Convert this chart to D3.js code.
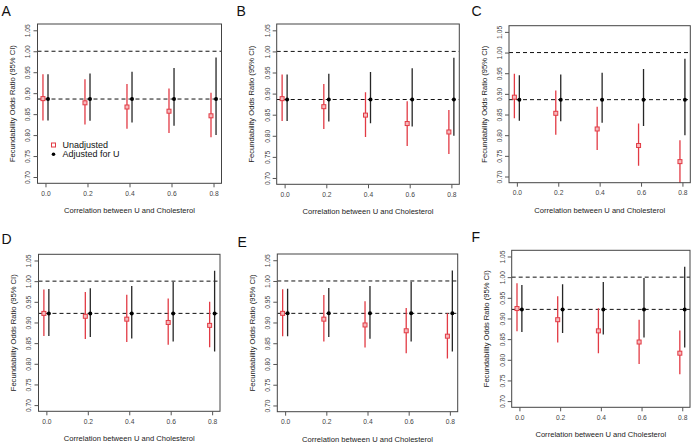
<!DOCTYPE html>
<html>
<head>
<meta charset="utf-8">
<script src="https://cdn.jsdelivr.net/npm/d3@7"></script>
<style>
  body { margin: 0; background: #fff; }
  svg { font-family: "Liberation Sans", Arial, sans-serif; }
</style>
</head>
<body>
<div id="chart"></div>
<script>
// correlation between U and cholesterol (x categories)
var corr = [0, 0.2, 0.4, 0.6, 0.8];
var xTicks = [0, 0.2, 0.4, 0.6, 0.8];
var yTicks = [0.70, 0.75, 0.80, 0.85, 0.90, 0.95, 1.00, 1.05];
var panelNames = ["A", "B", "C", "D", "E", "F"];

// adjusted for U (same within a row)
var adjEstTop = [0.886, 0.886, 0.886, 0.886, 0.886];
var adjLoTop  = [0.835, 0.834, 0.830, 0.822, 0.800];
var adjHiTop  = [0.945, 0.947, 0.951, 0.960, 0.985];
var adjEstBot = [0.922, 0.922, 0.922, 0.922, 0.922];
var adjLoBot  = [0.867, 0.865, 0.861, 0.854, 0.830];
var adjHiBot  = [0.981, 0.983, 0.988, 0.998, 1.025];

// unadjusted, one set per panel
var unEstA = [0.887, 0.877, 0.867, 0.857, 0.846];
var unLoA  = [0.835, 0.825, 0.815, 0.805, 0.795];
var unHiA  = [0.945, 0.933, 0.922, 0.911, 0.901];
var unEstB = [0.888, 0.869, 0.849, 0.829, 0.809];
var unLoB  = [0.835, 0.816, 0.797, 0.776, 0.757];
var unHiB  = [0.945, 0.923, 0.903, 0.882, 0.861];
var unEstC = [0.892, 0.853, 0.815, 0.775, 0.736];
var unLoC  = [0.841, 0.801, 0.764, 0.726, 0.684];
var unHiC  = [0.949, 0.908, 0.869, 0.828, 0.788];
var unEstD = [0.922, 0.915, 0.908, 0.900, 0.893];
var unLoD  = [0.867, 0.860, 0.853, 0.846, 0.840];
var unHiD  = [0.980, 0.974, 0.967, 0.958, 0.950];
var unEstE = [0.922, 0.908, 0.894, 0.880, 0.867];
var unLoE  = [0.867, 0.854, 0.840, 0.826, 0.813];
var unHiE  = [0.980, 0.966, 0.951, 0.935, 0.922];
var unEstF = [0.924, 0.897, 0.870, 0.843, 0.816];
var unLoF  = [0.869, 0.842, 0.816, 0.790, 0.765];
var unHiF  = [0.985, 0.954, 0.925, 0.897, 0.871];

var refLine = 1.00;

var panels = [
  {name: "A", est: unEstA, lo: unLoA, hi: unHiA, aEst: adjEstTop, aLo: adjLoTop, aHi: adjHiTop, legend: true},
  {name: "B", est: unEstB, lo: unLoB, hi: unHiB, aEst: adjEstTop, aLo: adjLoTop, aHi: adjHiTop},
  {name: "C", est: unEstC, lo: unLoC, hi: unHiC, aEst: adjEstTop, aLo: adjLoTop, aHi: adjHiTop},
  {name: "D", est: unEstD, lo: unLoD, hi: unHiD, aEst: adjEstBot, aLo: adjLoBot, aHi: adjHiBot},
  {name: "E", est: unEstE, lo: unLoE, hi: unHiE, aEst: adjEstBot, aLo: adjLoBot, aHi: adjHiBot},
  {name: "F", est: unEstF, lo: unLoF, hi: unHiF, aEst: adjEstBot, aLo: adjLoBot, aHi: adjHiBot}
];

// plot boxes [x0, x1, y0, y1] and letter positions
var boxes = [
  [37.5, 221.5, 24, 183.3],
  [276.7, 459.3, 24, 184.3],
  [509, 690.3, 25.7, 182.7],
  [38.5, 220, 254.3, 411.3],
  [277.3, 457.7, 254, 411.7],
  [511.7, 690, 250.3, 407.3]
];
var letterPos = [[1.5, 15.5], [236.5, 15.5], [471.5, 15.5], [1.5, 244], [237.5, 247], [471.5, 242]];

var red = "#e23a44";
var dark = "#262626";

var svg = d3.select("#chart").append("svg")
  .attr("width", 691)
  .attr("height", 444);

panels.forEach(function(p, i) {
  var b = boxes[i];
  var x = d3.scaleLinear().domain([-0.038, 0.838]).range([b[0], b[1]]);
  var y = d3.scaleLinear().domain([0.685, 1.065]).range([b[3], b[2]]);
  var g = svg.append("g");

  g.append("clipPath").attr("id", "clip" + i)
    .append("rect")
    .attr("x", b[0]).attr("y", b[2])
    .attr("width", b[1] - b[0]).attr("height", b[3] - b[2]);

  var plot = g.append("g").attr("clip-path", "url(#clip" + i + ")");

  // reference lines
  [refLine, p.aEst[0]].forEach(function(v) {
    plot.append("line")
      .attr("x1", b[0]).attr("x2", b[1])
      .attr("y1", y(v)).attr("y2", y(v))
      .attr("stroke", "#111")
      .attr("stroke-width", 1)
      .attr("stroke-dasharray", "4,3");
  });

  // unadjusted CIs
  plot.selectAll(".unci")
    .data(corr)
    .enter().append("line")
    .attr("x1", function(d) { return x(d - 0.012); })
    .attr("x2", function(d) { return x(d - 0.012); })
    .attr("y1", function(d, j) { return y(p.lo[j]); })
    .attr("y2", function(d, j) { return y(p.hi[j]); })
    .attr("stroke", red)
    .attr("stroke-width", 1.3);

  // adjusted CIs
  plot.selectAll(".adci")
    .data(corr)
    .enter().append("line")
    .attr("x1", function(d) { return x(d + 0.012); })
    .attr("x2", function(d) { return x(d + 0.012); })
    .attr("y1", function(d, j) { return y(p.aLo[j]); })
    .attr("y2", function(d, j) { return y(p.aHi[j]); })
    .attr("stroke", dark)
    .attr("stroke-width", 1.3);

  plot.selectAll(".unpt")
    .data(corr)
    .enter().append("rect")
    .attr("x", function(d) { return x(d - 0.012) - 2; })
    .attr("y", function(d, j) { return y(p.est[j]) - 2; })
    .attr("width", 4).attr("height", 4)
    .attr("fill", "#f6b9bc")
    .attr("stroke", red)
    .attr("stroke-width", 1);

  plot.selectAll(".adpt")
    .data(corr)
    .enter().append("circle")
    .attr("cx", function(d) { return x(d + 0.012); })
    .attr("cy", function(d, j) { return y(p.aEst[j]); })
    .attr("r", 2)
    .attr("fill", "#000");

  // box
  g.append("rect")
    .attr("x", b[0]).attr("y", b[2])
    .attr("width", b[1] - b[0]).attr("height", b[3] - b[2])
    .attr("fill", "none")
    .attr("stroke", "#444")
    .attr("stroke-width", 1);

  // axes
  var xAxis = g.append("g")
    .attr("transform", "translate(0," + b[3] + ")")
    .call(d3.axisBottom(x).tickValues(xTicks).tickFormat(d3.format(".1f")).tickSize(4).tickPadding(4).tickSizeOuter(0));
  var yAxis = g.append("g")
    .attr("transform", "translate(" + b[0] + ",0)")
    .call(d3.axisLeft(y).tickValues(yTicks).tickFormat(d3.format(".2f")).tickSize(4).tickSizeOuter(0));

  [xAxis, yAxis].forEach(function(a) {
    a.select(".domain").remove();
    a.selectAll(".tick line").attr("stroke", "#555");
    a.selectAll("text").attr("font-size", 6.7).attr("fill", "#444")
      .attr("font-family", "Liberation Sans, Arial, sans-serif");
  });
  yAxis.selectAll(".tick text")
    .attr("x", null)
    .attr("dy", "0.35em")
    .attr("text-anchor", "middle")
    .attr("transform", "translate(-9.5,0) rotate(-90)");

  // titles
  g.append("text")
    .attr("x", (b[0] + b[1]) / 2)
    .attr("y", b[3] + 30)
    .attr("text-anchor", "middle")
    .attr("font-size", 7.6)
    .attr("fill", "#222")
    .text("Correlation between U and Cholesterol");

  g.append("text")
    .attr("transform", "translate(" + (b[0] - 22.5) + "," + ((b[2] + b[3]) / 2) + ") rotate(-90)")
    .attr("text-anchor", "middle")
    .attr("font-size", 7.6)
    .attr("fill", "#222")
    .text("Fecundability Odds Ratio (95% CI)");

  g.append("text")
    .attr("x", letterPos[i][0])
    .attr("y", letterPos[i][1])
    .attr("font-size", 14)
    .attr("fill", "#111")
    .text(p.name);

  if (p.legend) {
    var lg = g.append("g").attr("transform", "translate(" + (b[0] + 16) + "," + (b[2] + 121) + ")");
    lg.append("rect").attr("x", -2).attr("y", -2).attr("width", 4).attr("height", 4)
      .attr("fill", "#fff").attr("stroke", red).attr("stroke-width", 1);
    lg.append("circle").attr("cx", 0).attr("cy", 9.3).attr("r", 1.8).attr("fill", "#000");
    lg.append("text").attr("x", 9).attr("y", 0).attr("dy", "0.35em")
      .attr("font-size", 9).attr("fill", "#111").text("Unadjusted");
    lg.append("text").attr("x", 9).attr("y", 9.3).attr("dy", "0.35em")
      .attr("font-size", 9).attr("fill", "#111").text("Adjusted for U");
  }
});
</script>
</body>
</html>
